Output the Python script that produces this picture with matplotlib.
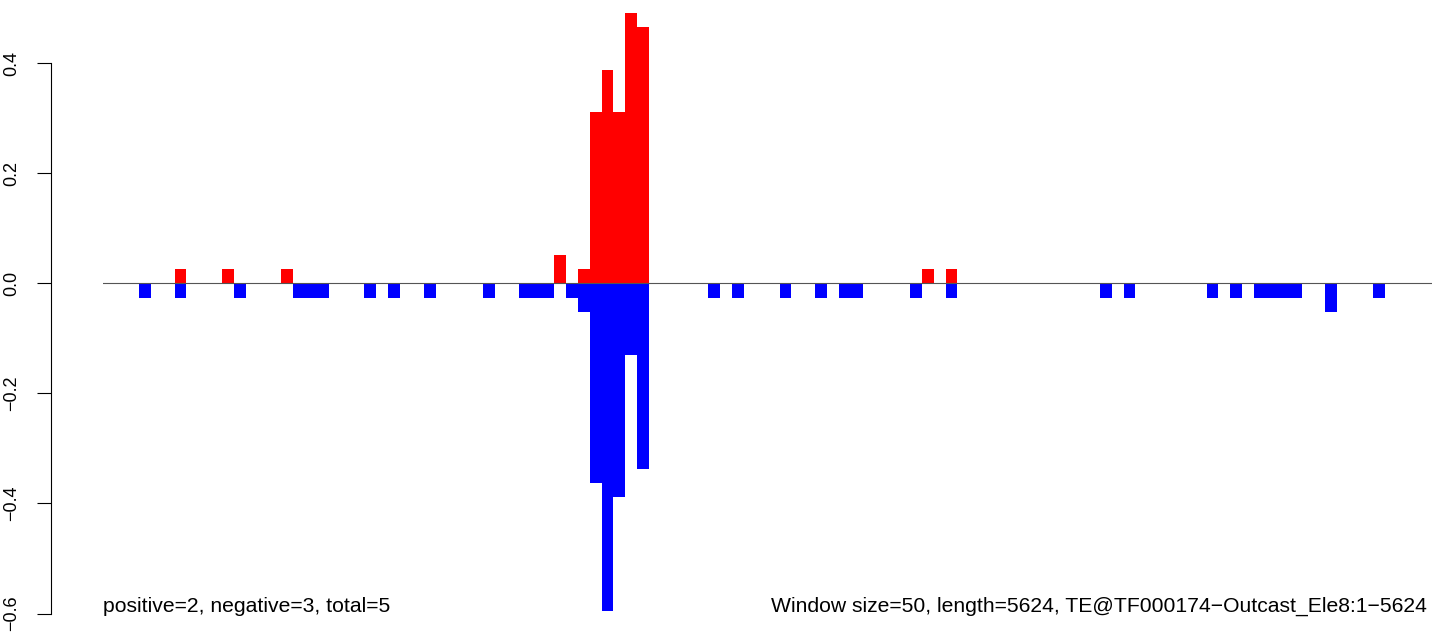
import matplotlib
matplotlib.use("Agg")
import matplotlib.pyplot as plt
import matplotlib.transforms as mtransforms

# ---- data ----
window_size = 50
seq_length = 5624
n_windows = seq_length // window_size  # 112

pos_windows = [6, 10, 15, 38, 40, 41, 42, 43, 44, 45, 69, 71]
pos_values = [0.026, 0.026, 0.026, 0.052, 0.026, 0.311, 0.389, 0.311, 0.492, 0.466, 0.026, 0.026]

neg_windows = [3, 6, 11, 16, 17, 18, 22, 24, 27, 32, 35, 36, 37, 39, 40, 41, 42, 43, 44, 45,
               51, 53, 57, 60, 62, 63, 68, 71, 84, 86, 93, 95, 97, 98, 99, 100, 103, 107]
neg_values = [-0.026, -0.026, -0.026, -0.026, -0.026, -0.026, -0.026, -0.026, -0.026, -0.026,
              -0.026, -0.026, -0.026, -0.026, -0.052, -0.363, -0.596, -0.389, -0.130, -0.337,
              -0.026, -0.026, -0.026, -0.026, -0.026, -0.026, -0.026, -0.026, -0.026, -0.026,
              -0.026, -0.026, -0.026, -0.026, -0.026, -0.026, -0.052, -0.026]

yticks = [-0.6, -0.4, -0.2, 0.0, 0.2, 0.4]
ytick_labels = ["\u22120.6", "\u22120.4", "\u22120.2", "0.0", "0.2", "0.4"]

n_pos, n_neg = 2, 3
left_label = f"positive={n_pos}, negative={n_neg}, total={n_pos + n_neg}"
right_label = (f"Window size={window_size}, length={seq_length}, "
               f"TE@TF000174\u2212Outcast_Ele8:1\u2212{seq_length}")

# ---- figure ----
plt.rcParams['font.family'] = ['Liberation Sans', 'DejaVu Sans']
W, H, DPI = 1444, 632, 100
fig = plt.figure(figsize=(W / DPI, H / DPI), dpi=DPI)
fig.patch.set_facecolor('white')

ax_left_px, ax_right_px = 103.4, 1432.0
ax = fig.add_axes([ax_left_px / W, 0.0, (ax_right_px - ax_left_px) / W, 1.0])
ax.set_facecolor('none')

zero_px, px_per_unit = 283.5, 550.0
ax.set_xlim(0, n_windows * window_size)
ax.set_ylim(-(H - zero_px) / px_per_unit, zero_px / px_per_unit)

ax.bar([w * window_size for w in pos_windows], pos_values, width=window_size,
       align='edge', color='#ff0000', linewidth=0, antialiased=False, zorder=2)
ax.bar([w * window_size for w in neg_windows], neg_values, width=window_size,
       align='edge', color='#0000ff', linewidth=0, antialiased=False, zorder=2)

ax.axhline(0, color='#555555', lw=0.8, zorder=3)

for s in ['top', 'right', 'bottom']:
    ax.spines[s].set_visible(False)
ax.spines['left'].set_position(('outward', (ax_left_px - 51) * 72 / DPI))
ax.spines['left'].set_bounds(-0.6, 0.4)
ax.spines['left'].set_linewidth(0.8)
ax.set_xticks([])
ax.set_yticks(yticks)
ax.set_yticklabels(ytick_labels, rotation=90, va='center', fontsize=13)
ax.tick_params(axis='y', length=10, width=0.8, pad=12)

text_size = 15.2
tr_left = mtransforms.blended_transform_factory(ax.transData, ax.transData)
text_y = -(611.5 - zero_px) / px_per_unit
ax.text(0, text_y, left_label, ha='left', va='baseline', fontsize=text_size, transform=tr_left)
tr_right = mtransforms.blended_transform_factory(ax.transAxes, ax.transData) + \
    mtransforms.ScaledTranslation(-5 / DPI, 0, fig.dpi_scale_trans)
ax.text(1, text_y, right_label, ha='right', va='baseline', fontsize=text_size, transform=tr_right)

fig.savefig('out.png', dpi=DPI, facecolor='white')
